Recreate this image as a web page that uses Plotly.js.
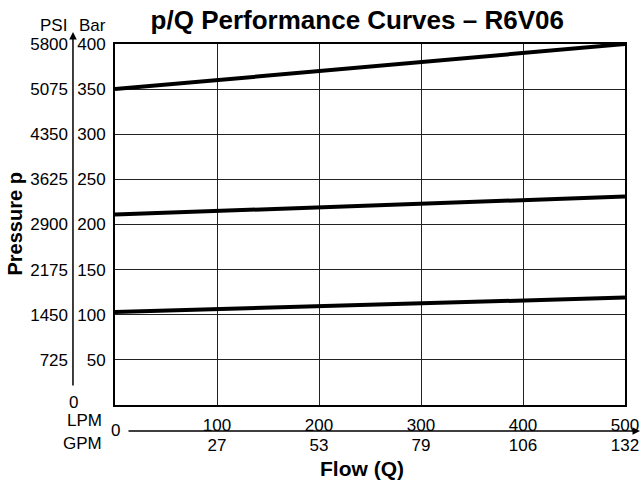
<!DOCTYPE html>
<html>
<head>
<meta charset="utf-8">
<script src="https://cdn.plot.ly/plotly-3.0.1.min.js"></script>
<style>html,body{margin:0;padding:0;background:#fff;}#chart{width:642px;height:485px;}</style>
</head>
<body>
<div id="chart"></div>
<script>
// Data
const flowLPM = [0, 500];
const curveTop = [350, 400];
const curveMid = [211, 231];
const curveLow = [103, 119];

const lpmTicks = [100, 200, 300, 400, 500];
const gpmLabels = ['27', '53', '79', '106', '132'];
const barTicks = [50, 100, 150, 200, 250, 300, 350, 400];
const psiTicks = [725, 1450, 2175, 2900, 3625, 4350, 5075, 5800];

const FONT = 'Liberation Sans, Arial, Helvetica, sans-serif';
const lineStyle = {color: '#000', width: 4};

const traces = [
  {x: flowLPM, y: curveTop, mode: 'lines', line: lineStyle, hoverinfo: 'skip', showlegend: false},
  {x: flowLPM, y: curveMid, mode: 'lines', line: lineStyle, hoverinfo: 'skip', showlegend: false},
  {x: flowLPM, y: curveLow, mode: 'lines', line: lineStyle, hoverinfo: 'skip', showlegend: false},
  {x: [0], y: [0], xaxis: 'x2', yaxis: 'y2', mode: 'markers', marker: {opacity: 0}, hoverinfo: 'skip', showlegend: false}
];

const annotations = [
  {text: 'PSI', xref: 'paper', yref: 'paper', x: 0, y: 1, xshift: -46, yshift: 19, xanchor: 'right', yanchor: 'middle', showarrow: false, font: {size: 17}},
  {text: 'Bar', xref: 'paper', yref: 'paper', x: 0, y: 1, xshift: -38, yshift: 19, xanchor: 'left', yanchor: 'middle', showarrow: false, font: {size: 17}},
  {text: '0', xref: 'paper', yref: 'paper', x: 0, y: 0, xshift: -42, yshift: 3, xanchor: 'center', yanchor: 'middle', showarrow: false, font: {size: 17}},
  {text: '0', xref: 'paper', yref: 'paper', x: 0, y: 0, xshift: 0, yshift: -25, xanchor: 'center', yanchor: 'middle', showarrow: false, font: {size: 17}},
  {text: 'LPM', xref: 'paper', yref: 'paper', x: 0, y: 0, xshift: -11, yshift: -15, xanchor: 'right', yanchor: 'middle', showarrow: false, font: {size: 17}},
  {text: 'GPM', xref: 'paper', yref: 'paper', x: 0, y: 0, xshift: -11, yshift: -38, xanchor: 'right', yanchor: 'middle', showarrow: false, font: {size: 17}},
  {text: '<b>Pressure p</b>', xref: 'paper', yref: 'paper', x: 0, y: 0.5, xshift: -101, textangle: -90, xanchor: 'center', yanchor: 'middle', showarrow: false, font: {size: 20}},
  {text: '<b>Flow (Q)</b>', xref: 'paper', yref: 'paper', x: 0.485, y: 0, yshift: -63, xanchor: 'center', yanchor: 'middle', showarrow: false, font: {size: 21}},
  // vertical arrow (pressure)
  {text: '', xref: 'paper', yref: 'paper', x: -0.0824, y: 1.033, showarrow: true, ax: 0, ay: 355, arrowhead: 2, arrowsize: 1, arrowwidth: 1.5, arrowcolor: '#000'},
  // horizontal arrow (flow)
  {text: '', xref: 'paper', yref: 'paper', x: 1.0294, y: -0.072, showarrow: true, ax: -513, ay: 0, arrowhead: 2, arrowsize: 1, arrowwidth: 1.5, arrowcolor: '#000'}
];

const layout = {
  width: 642, height: 485,
  margin: {l: 115, r: 17, t: 44, b: 80},
  paper_bgcolor: '#fff', plot_bgcolor: '#fff',
  font: {family: FONT, color: '#000', size: 17},
  title: {text: '<b>p/Q Performance Curves – R6V06</b>', font: {size: 26, family: FONT, color: '#000'},
          xref: 'paper', x: 0.475, xanchor: 'center', yref: 'container', y: 0.958, yanchor: 'middle'},
  xaxis: {range: [0, 500], tickvals: lpmTicks, ticktext: lpmTicks.map(String), ticks: '',
          showgrid: true, gridcolor: '#222', gridwidth: 1, zeroline: false,
          showline: true, mirror: true, linecolor: '#000', linewidth: 2,
          tickfont: {size: 17}, ticklabelstandoff: 4, fixedrange: true},
  xaxis2: {range: [0, 500], overlaying: 'x', anchor: 'y2', side: 'bottom', tickvals: lpmTicks, ticktext: gpmLabels,
           ticks: '', showgrid: false, zeroline: false, showline: false,
           tickfont: {size: 17}, ticklabelstandoff: 28, fixedrange: true},
  yaxis: {range: [0, 400], tickvals: barTicks, ticktext: barTicks.map(String), ticks: '',
          showgrid: true, gridcolor: '#222', gridwidth: 1, zeroline: false,
          showline: true, mirror: true, linecolor: '#000', linewidth: 2,
          tickfont: {size: 17}, ticklabelstandoff: 4, fixedrange: true},
  yaxis2: {range: [0, 5800], overlaying: 'y', anchor: 'x2', side: 'left', tickvals: psiTicks, ticktext: psiTicks.map(String),
           ticks: '', showgrid: false, zeroline: false, showline: false,
           tickfont: {size: 17}, ticklabelstandoff: 46, fixedrange: true},
  annotations: annotations,
  showlegend: false
};

Plotly.newPlot('chart', traces, layout, {displayModeBar: false, staticPlot: true});
</script>
</body>
</html>
